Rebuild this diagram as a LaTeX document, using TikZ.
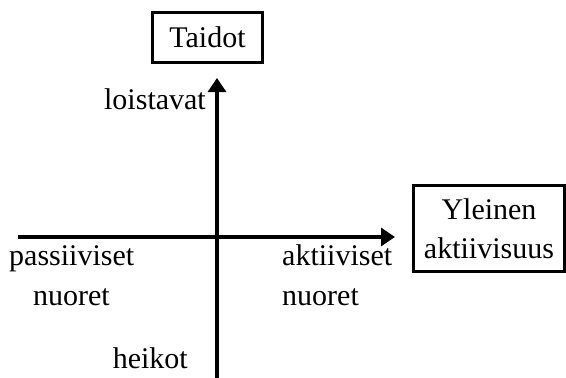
\documentclass[tikz,border=0pt]{standalone}
\usepackage{fontspec}
\setmainfont{Liberation Serif}
\usetikzlibrary{arrows.meta}
\begin{document}
\begin{tikzpicture}[x=1pt,y=-1pt,
  lbl/.style={inner sep=0pt,font=\fontsize{30}{39}\selectfont},
  boxed/.style={draw,line width=2.8pt,inner sep=0pt,font=\fontsize{30}{39}\selectfont,align=center},
  axis/.style={line width=3.2pt,-{Triangle[length=14pt,width=18pt]}}]
\useasboundingbox (0,0) rectangle (566,378);
\node[boxed,minimum width=110pt,minimum height=50pt] (taidot) at (207.5,37.5) {Taidot};
\node[boxed,minimum width=151pt,minimum height=86pt] (yleinen) at (489,228.5) {Yleinen\\aktiivisuus};
\coordinate (hl) at (18,237);
\coordinate (hr) at (395,237);
\coordinate (vb) at (217,378);
\coordinate (vt) at (217,78);
\draw[axis] (hl) -- (hr);
\draw[axis] (vb) -- (vt);
\node[lbl,anchor=base east] (loist) at (206,109) {loistavat};
\node[lbl,anchor=base west] (pass) at (9,265) {passiiviset};
\node[lbl,anchor=base] (nuor1) at (71.5,305) {nuoret};
\node[lbl,anchor=base west] (akt) at (282,265) {aktiiviset};
\node[lbl,anchor=base west] (nuor2) at (282,305) {nuoret};
\node[lbl,anchor=base east] (heik) at (188,368) {heikot};
\end{tikzpicture}
\end{document}
